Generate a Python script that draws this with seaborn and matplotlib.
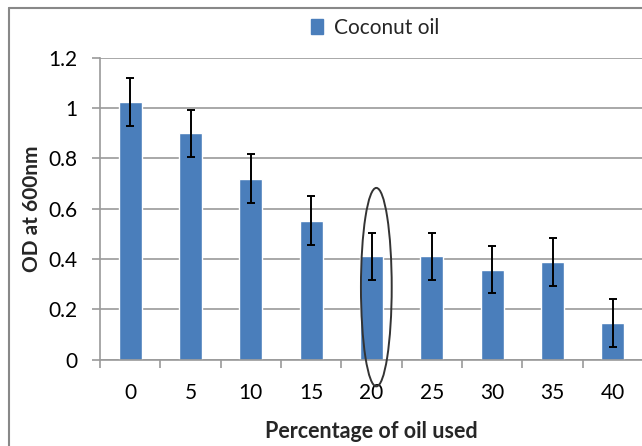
import matplotlib
matplotlib.use("Agg")
import matplotlib.pyplot as plt
import seaborn as sns
import pandas as pd
import numpy as np
from matplotlib.patches import Ellipse
from matplotlib.lines import Line2D

percentages = ["0", "5", "10", "15", "20", "25", "30", "35", "40"]
od_values = [1.025, 0.90, 0.72, 0.553, 0.41, 0.41, 0.358, 0.388, 0.146]
od_errors = [0.095, 0.095, 0.096, 0.096, 0.095, 0.095, 0.095, 0.096, 0.096]
series_name = "Coconut oil"
y_ticks = [0, 0.2, 0.4, 0.6, 0.8, 1.0, 1.2]
y_tick_labels = ["0", "0.2", "0.4", "0.6", "0.8", "1", "1.2"]

sns.set_theme(style="white")
plt.rcParams["font.family"] = ["Lato", "DejaVu Sans"]

df = pd.DataFrame({"pct": percentages, "od": od_values, "series": series_name})

fig = plt.figure(figsize=(6.42, 4.46), dpi=100)
ax = fig.add_axes([100/642, 86.5/446, 543/642, 301.5/446])

bar_color = "#4A7EBB"
sns.barplot(data=df, x="pct", y="od", hue="series", order=percentages,
            palette=[bar_color], width=0.38, errorbar=None, ax=ax,
            legend=False, saturation=1)

xpos = np.arange(len(percentages))
ax.errorbar(xpos, od_values, yerr=od_errors, fmt="none", ecolor="black",
            elinewidth=1.4, capsize=3, capthick=1.4, zorder=5)

ax.set_ylim(0, 1.2)
ax.set_xlim(-0.5, len(percentages) - 0.5)
ax.set_yticks(y_ticks)
ax.set_yticklabels(y_tick_labels)
ax.yaxis.grid(True, color="#9a9a9a", linewidth=1.2)
ax.set_axisbelow(True)

for s in ["top", "right"]:
    ax.spines[s].set_visible(False)
for s in ["left", "bottom"]:
    ax.spines[s].set_color("#9a9a9a")
    ax.spines[s].set_linewidth(1.2)

ax.tick_params(axis="y", which="major", length=6, width=1.2, color="#9a9a9a",
               labelsize=15, pad=10, labelcolor="black", direction="out", left=True)
ax.tick_params(axis="x", which="major", length=0, labelsize=15, pad=17,
               labelcolor="black")
ax.set_xticks(np.arange(-0.5, len(percentages), 1.0), minor=True)
ax.tick_params(axis="x", which="minor", length=6, width=1.2, color="#9a9a9a",
               direction="out", bottom=True)

ax.set_xlabel("Percentage of oil used", fontsize=15.5, fontweight="bold", labelpad=13)
ax.set_ylabel("OD at 600nm", fontsize=15, fontweight="bold", labelpad=5)

# legend
handle = plt.Rectangle((0, 0), 1, 1, color=bar_color)
fig.legend([handle], [series_name], loc="center", bbox_to_anchor=(375/642, 1 - 28/446),
           frameon=False, fontsize=15, handlelength=0.6, handleheight=0.7,
           handletextpad=0.5)

# ellipse around the 20% bar
ell = Ellipse((4.08, 0.288), width=0.51, height=0.79, fill=False,
              edgecolor="#333333", linewidth=1.4, clip_on=False, zorder=6)
ax.add_patch(ell)

# image frame (top and left)
fig.add_artist(Line2D([9/642, 9/642], [0, 1 - 8/446], transform=fig.transFigure,
                      color="#888888", linewidth=1.5))
fig.add_artist(Line2D([9/642, 1], [1 - 8/446, 1 - 8/446], transform=fig.transFigure,
                      color="#888888", linewidth=1.5))

fig.savefig("out.png", dpi=100)
